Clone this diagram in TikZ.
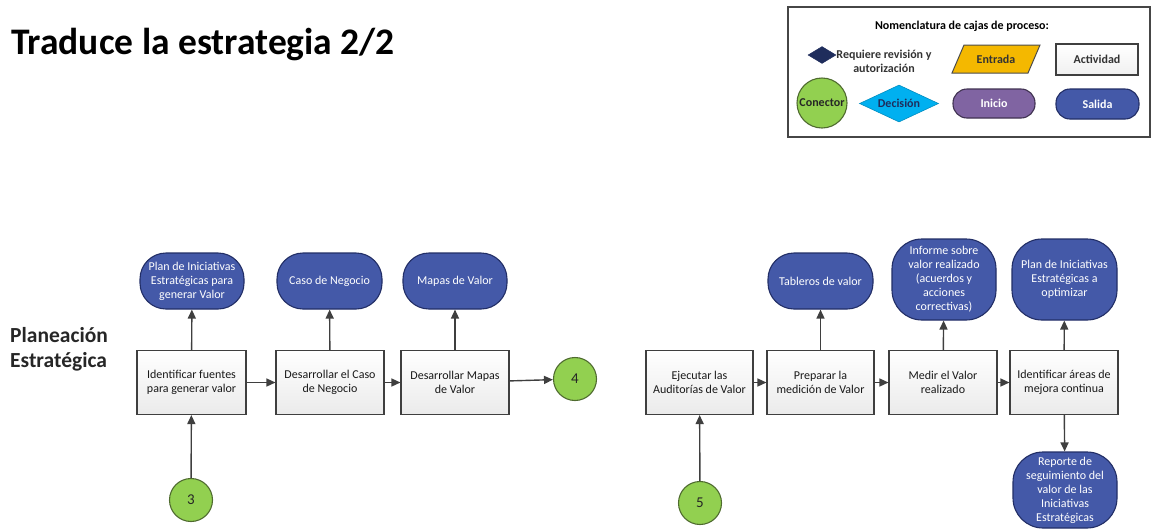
\documentclass[tikz,border=0pt]{standalone}
\usepackage{fontspec}
\setmainfont{Carlito}
\usetikzlibrary{shapes.geometric,arrows.meta}
\definecolor{lineg}{HTML}{3F3F3F}
\definecolor{outblue}{HTML}{4459A8}
\definecolor{outedge}{HTML}{222E66}
\definecolor{congreen}{HTML}{92D050}
\definecolor{conedge}{HTML}{4F6B2F}
\definecolor{navy}{HTML}{1F2D5C}
\definecolor{entrada}{HTML}{F4B800}
\definecolor{decis}{HTML}{00B0F0}
\definecolor{inicio}{HTML}{8064A2}
\tikzset{
  actbox/.style={rectangle, draw=lineg, line width=1.1pt, top color=white, bottom color=gray!16,
    minimum width=108pt, minimum height=64pt, align=center, text=black!90,
    font=\fontsize{12}{14.5}\selectfont},
  outbox/.style={rectangle, rounded corners=26pt, draw=outedge, line width=1.1pt, fill=outblue,
    minimum width=105pt, minimum height=56pt, align=center, text=white,
    font=\fontsize{12}{14}\selectfont},
  conn/.style={circle, draw=conedge, line width=1.1pt, fill=congreen, minimum size=43pt,
    font=\fontsize{15}{16}\selectfont, text=black!85},
  legtext/.style={font=\bfseries\fontsize{12}{14}\selectfont},
  flow/.style={draw=lineg, line width=1.4pt, -{Triangle[length=9pt,width=8pt]}},
}
\begin{document}
\begin{tikzpicture}[x=1pt,y=-1pt]
\useasboundingbox (0,0) rectangle (1151,531);

% title and lane label
\node[anchor=base west, inner sep=0pt, font=\bfseries\fontsize{37.5}{40}\selectfont] (title) at (11,54) {Traduce la estrategia 2/2};
\node[anchor=base west, inner sep=0pt, align=left, font=\bfseries\fontsize{21.5}{25}\selectfont, text=black!85] (lane) at (10,367) {Planeación\\Estratégica};

% legend
\draw[draw=gray!55!black, line width=1.6pt, fill=white] (788,7) rectangle (1150,137);
\node[legtext] (legtitle) at (962,26) {Nomenclatura de cajas de proceso:};
\node[diamond, fill=navy, draw=navy, aspect=1.7, inner sep=0pt, minimum width=28pt, minimum height=17pt] (lrev) at (822,55) {};
\node[legtext, align=center, text=black!80] (lrevt) at (884,61) {Requiere revisión y\\autorización};
\draw[draw=black!70, line width=1pt, fill=entrada] (952,73) -- (964,45) -- (1040,45) -- (1028,73) -- cycle;
\node[legtext, text=black!80] (lent) at (996,59.5) {Entrada};
\node[rectangle, draw=lineg, line width=1.1pt, top color=white, bottom color=gray!12, minimum width=82pt, minimum height=31pt,
  legtext, text=black!80] (lact) at (1097,59.5) {Actividad};
\node[circle, draw=conedge, line width=1.1pt, fill=congreen, minimum size=50pt, inner sep=0pt,
  legtext, text=black!85] (lcon) at (822,103) {Conector};
\node[diamond, fill=decis, draw=decis!80!black, line width=0.6pt, aspect=2.1, inner sep=0pt, minimum width=79pt, minimum height=37pt,
  legtext, text=navy] (ldec) at (899,103.5) {Decisión};
\node[rectangle, rounded corners=14pt, draw=inicio!50!black, line width=1.1pt, fill=inicio, minimum width=82pt, minimum height=29pt,
  legtext, text=white] (lini) at (994,103.5) {Inicio};
\node[rectangle, rounded corners=14pt, draw=outedge, line width=1.1pt, fill=outblue, minimum width=83pt, minimum height=30pt,
  legtext, text=white] (lsal) at (1097.5,104) {Salida};

% first chain
\node[actbox, minimum width=109pt] (b1) at (191.5,382.5) {Identificar fuentes\\para generar valor};
\node[actbox] (b2) at (330,382.5) {Desarrollar el Caso\\de Negocio};
\node[actbox] (b3) at (455,382.5) {Desarrollar Mapas\\de Valor};
\node[outbox, minimum width=104pt] (o1) at (192,281) {Plan de Iniciativas\\Estratégicas para\\generar Valor};
\node[outbox] (o2) at (329.5,281) {Caso de Negocio};
\node[outbox, minimum width=104pt] (o3) at (455,281) {Mapas de Valor};
\node[conn] (c3) at (191,500) {3};
\node[conn] (c4) at (575,379) {4};

\draw[flow] (c3) -- (b1);
\draw[flow] (b1) -- (b2);
\draw[flow] (b2) -- (b3);
\draw[flow] (b3) -- (c4);
\draw[flow] (b1) -- (o1);
\draw[flow] (b2) -- (o2);
\draw[flow] (b3) -- (o3);

% second chain
\node[actbox, minimum width=107pt] (bE) at (699.5,382.5) {Ejecutar las\\Auditorías de Valor};
\node[actbox, minimum width=107pt] (bP) at (820.5,382.5) {Preparar la\\medición de Valor};
\node[actbox] (bM) at (943,382.5) {Medir el Valor\\realizado};
\node[actbox] (bI) at (1064,382.5) {Identificar áreas de\\mejora continua};
\node[outbox] (oT) at (820.5,281) {Tableros de valor};
\node[outbox, minimum width=104pt, minimum height=81pt, rounded corners=30pt] (oInf) at (944,279.5) {Informe sobre\\valor realizado\\(acuerdos y\\acciones\\correctivas)};
\node[outbox, minimum height=81pt, rounded corners=30pt] (oPl) at (1064.5,279.5) {Plan de Iniciativas\\Estratégicas a\\optimizar};
\node[outbox, minimum width=104pt, minimum height=76pt, rounded corners=30pt] (oR) at (1065,490) {Reporte de\\seguimiento del\\valor  de las\\Iniciativas\\Estratégicas};
\node[conn] (c5) at (700,503) {5};

\draw[flow] (c5) -- (bE);
\draw[flow] (bE) -- (bP);
\draw[flow] (bP) -- (bM);
\draw[flow] (bM) -- (bI);
\draw[flow] (bP) -- (oT);
\draw[flow] (bM) -- (oInf);
\draw[flow] (bI) -- (oPl);
\draw[flow] (bI) -- (oR);
\end{tikzpicture}
\end{document}
